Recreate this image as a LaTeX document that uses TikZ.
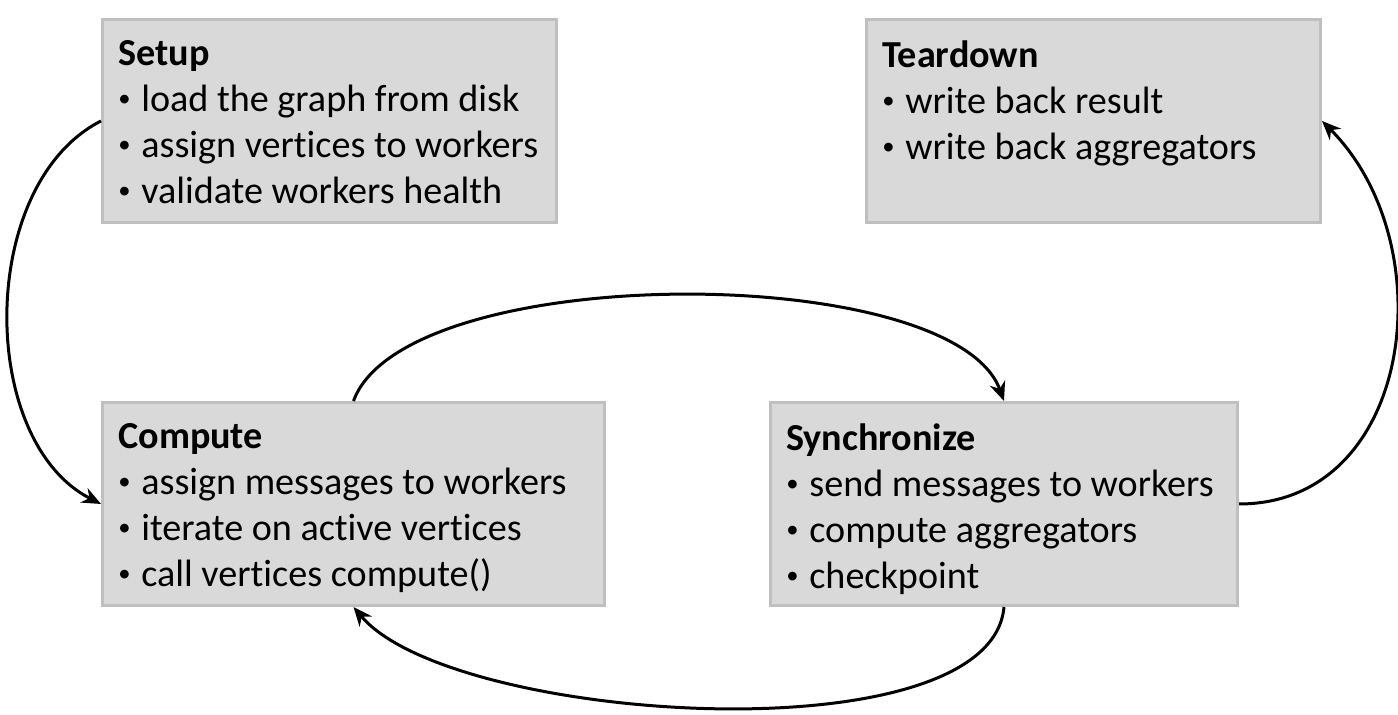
\documentclass[tikz,border=0pt]{standalone}
\usepackage{fontspec}
\setmainfont{Carlito}[Ligatures=NoCommon]
\usetikzlibrary{arrows.meta, positioning}
\definecolor{boxfill}{HTML}{D9D9D9}
\definecolor{boxline}{HTML}{BFBFBF}
\newcommand{\phasebullet}{\makebox[0.46cm][l]{\raisebox{0.12em}{\fontsize{14}{14}\selectfont\textbullet}}}
\tikzstyle{phase} = [rectangle, minimum height=4.06cm, draw=boxline, line width=0.06cm, fill=boxfill, anchor=north west]
\tikzstyle{phasetext} = [anchor=north west, align=left, inner sep=0pt, font=\fontsize{21.7}{26.2}\selectfont]
\tikzstyle{arrow} = [line width=0.06cm, -{Stealth[length=0.38cm, width=0.32cm]}]
\begin{document}
\begin{tikzpicture}
	\useasboundingbox (0,0) rectangle (27.96,14.3);
	\node (setup) [phase, minimum width=9.08cm] at (2.02,13.94) {};
	\node (teardown) [phase, minimum width=9.08cm, right=6.14cm of setup.north east, anchor=north west] {};
	\node (compute) [phase, minimum width=10.04cm] at ([yshift=-3.54cm]setup.south west) {};
	\node (sync) [phase, minimum width=9.34cm, right=3.26cm of compute.north east, anchor=north west] {};
	% texts inside the boxes
	\node (setup text) [phasetext] at ([shift={(0.34,-0.44)}]setup.north west) {\textbf{Setup}\\\phasebullet load the graph from disk\\\phasebullet assign vertices to workers\\\phasebullet validate workers health};
	\node (teardown text) [phasetext] at ([shift={(0.34,-0.44)}]teardown.north west) {\textbf{Teardown}\\\phasebullet write back result\\\phasebullet write back aggregators};
	\node (compute text) [phasetext] at ([shift={(0.34,-0.44)}]compute.north west) {\textbf{Compute}\\\phasebullet assign messages to workers\\\phasebullet iterate on active vertices\\\phasebullet call vertices compute()};
	\node (sync text) [phasetext] at ([shift={(0.34,-0.44)}]sync.north west) {\textbf{Synchronize}\\\phasebullet send messages to workers\\\phasebullet compute aggregators\\\phasebullet checkpoint};
	% arrows
	\draw [arrow] (setup.west) to[out=207, in=153, looseness=0.93] (compute.west);
	\draw [arrow] (compute.north) to[out=70, in=110, looseness=0.59] (sync.north);
	\draw [arrow] (sync.south) to[out=-95, in=-50, looseness=0.6] (compute.south);
	\draw [arrow] (sync.east) to[out=0, in=-45, looseness=1.14] (teardown.east);
\end{tikzpicture}
\end{document}
